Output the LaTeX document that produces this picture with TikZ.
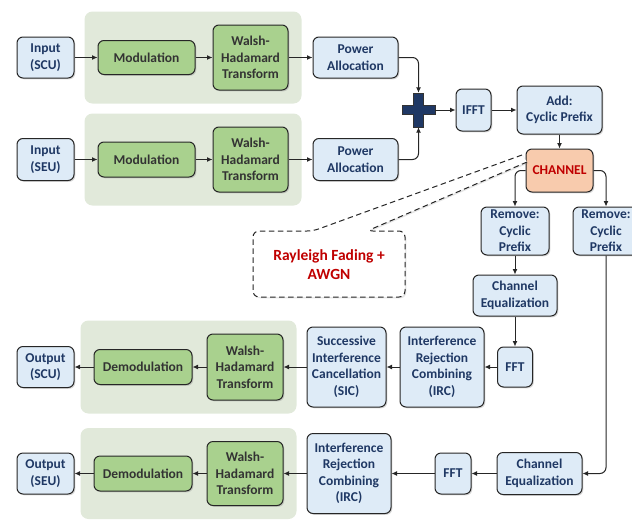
\documentclass[tikz,border=0pt]{standalone}
\usepackage{fontspec}
\setmainfont{Carlito}
\usetikzlibrary{arrows.meta,fit,backgrounds,shadows}
\definecolor{boxblue}{HTML}{DEEBF7}
\definecolor{boxgreen}{HTML}{A9D18E}
\definecolor{grpgreen}{HTML}{E1E9DA}
\definecolor{navy}{HTML}{1F3864}
\definecolor{chanfill}{HTML}{F8CBAD}
\definecolor{alert}{HTML}{C00000}

\begin{document}
\begin{tikzpicture}[x=1pt, y=-1pt, >={Latex[length=5.5pt,width=5pt]},
  font=\bfseries\fontsize{13.5}{16.5}\selectfont,
  sz/.style 2 args={minimum width=#1pt, minimum height=#2pt},
  blk/.style={draw=black!85, line width=1pt, rounded corners=6pt, fill=boxblue, text=navy, align=center, inner sep=1pt,
    drop shadow={shadow xshift=1.3pt, shadow yshift=-1.3pt, opacity=0.3}},
  grn/.style={blk, fill=boxgreen, text=black!80},
  grp/.style={fill=grpgreen, rounded corners=8pt, inner sep=13pt},
  link/.style={->, draw=black!85, line width=1pt, rounded corners=6pt}]
  \useasboundingbox (0,0) rectangle (632,520);
  \clip (0,0) rectangle (632,520);
  % transmitter
  \node[blk, sz={57}{41}] (in1) at (45.5,57.5) {Input\\(SCU)};
  \node[grn, sz={97}{34}] (mod1) at (146.5,57.5) {Modulation};
  \node[grn, sz={75}{65}] (wht1) at (250.5,57.5) {Walsh-\\Hadamard\\Transform};
  \node[blk, sz={85}{41}] (pa1) at (355.5,57.5) {Power\\Allocation};
  \node[blk, sz={57}{42}] (in2) at (45.5,159.5) {Input\\(SEU)};
  \node[grn, sz={97}{35}] (mod2) at (146.5,159.5) {Modulation};
  \node[grn, sz={75}{65}] (wht2) at (250.5,159.5) {Walsh-\\Hadamard\\Transform};
  \node[blk, sz={85}{42}] (pa2) at (355.5,159.5) {Power\\Allocation};
  \node[sz={33}{34}, inner sep=0] (sum) at (418.5,110) {};
  \filldraw[fill=navy, draw=black!80, line width=0.6pt, shift={(sum.center)}]
    (-5,-17) -- (5,-17) -- (5,-4.5) -- (16.5,-4.5) -- (16.5,4.5) -- (5,4.5) -- (5,17)
    -- (-5,17) -- (-5,4.5) -- (-16.5,4.5) -- (-16.5,-4.5) -- (-5,-4.5) -- cycle;
  \node[blk, sz={35}{42}] (ifft) at (473.5,110) {IFFT};
  \node[blk, sz={85}{48}] (acp) at (559.5,110) {Add:\\Cyclic Prefix};
  \node[blk, sz={67}{43}, fill=chanfill, text=alert] (chan) at (559.5,170.5) {CHANNEL};
  % channel model
  \filldraw[dash pattern=on 5.5pt off 3.5pt, fill=white, draw=black!85, line width=1pt, rounded corners=6pt,
    drop shadow={shadow xshift=1.3pt, shadow yshift=-1.3pt, opacity=0.2}]
    (522,155) -- (313,231) -- (253,231) -- (253,297) -- (405,297) -- (405,231) -- (367,231) -- (527,162);
  \node[text=alert, align=center, font=\bfseries\fontsize{15.5}{19}\selectfont] (ray) at (329,265) {Rayleigh Fading +\\AWGN};
  % receiver
  \node[blk, sz={68}{48}] (rcp1) at (515,231) {Remove:\\Cyclic\\Prefix};
  \node[blk, sz={66}{48}] (rcp2) at (606,231) {Remove:\\Cyclic\\Prefix};
  \node[blk, sz={84}{41}] (ce1) at (515,295.5) {Channel\\Equalization};
  \node[blk, sz={35}{40}] (fft1) at (515,367) {FFT};
  \node[blk, sz={84}{80}] (irc1) at (442,367) {Interference\\Rejection\\Combining\\(IRC)};
  \node[blk, sz={79}{80}] (sic) at (346.5,367) {Successive\\Interference\\Cancellation\\(SIC)};
  \node[grn, sz={76}{66}] (wht3) at (245,367) {Walsh-\\Hadamard\\Transform};
  \node[grn, sz={98}{35}] (dem1) at (143,367) {Demodulation};
  \node[blk, sz={57}{41}] (out1) at (45.5,367) {Output\\(SCU)};
  \node[blk, sz={85}{42}] (ce2) at (539.5,473.5) {Channel\\Equalization};
  \node[blk, sz={36}{41}] (fft2) at (453,473.5) {FFT};
  \node[blk, sz={84}{80}] (irc2) at (349,473.5) {Interference\\Rejection\\Combining\\(IRC)};
  \node[grn, sz={76}{64}] (wht4) at (245,473.5) {Walsh-\\Hadamard\\Transform};
  \node[grn, sz={98}{35}] (dem2) at (143,473.5) {Demodulation};
  \node[blk, sz={57}{41}] (out2) at (45.5,473.5) {Output\\(SEU)};
  \begin{scope}[on background layer]
    \node[grp, fit=(mod1)(wht1)] (g1) {};
    \node[grp, fit=(mod2)(wht2)] (g2) {};
    \node[grp, fit=(dem1)(wht3)] (g3) {};
    \node[grp, fit=(dem2)(wht4)] (g4) {};
  \end{scope}
  % links
  \draw[link] (in1) -- (mod1); \draw[link] (mod1) -- (wht1); \draw[link] (wht1) -- (pa1);
  \draw[link] (in2) -- (mod2); \draw[link] (mod2) -- (wht2); \draw[link] (wht2) -- (pa2);
  \draw[link] (pa1.east) -| (sum.north);
  \draw[link] (pa2.east) -| (sum.south);
  \draw[link] (sum) -- (ifft); \draw[link] (ifft) -- (acp); \draw[link] (acp) -- (chan);
  \draw[link] (chan.west) -| (rcp1.north);
  \draw[link] (chan.east) -| (rcp2.north);
  \draw[link] (rcp1) -- (ce1); \draw[link] (ce1) -- (fft1); \draw[link] (fft1) -- (irc1);
  \draw[link] (irc1) -- (sic); \draw[link] (sic) -- (wht3); \draw[link] (wht3) -- (dem1);
  \draw[link] (dem1) -- (out1);
  \draw[link] (rcp2.south) |- (ce2.east);
  \draw[link] (ce2) -- (fft2); \draw[link] (fft2) -- (irc2); \draw[link] (irc2) -- (wht4);
  \draw[link] (wht4) -- (dem2); \draw[link] (dem2) -- (out2);
\end{tikzpicture}
\end{document}
